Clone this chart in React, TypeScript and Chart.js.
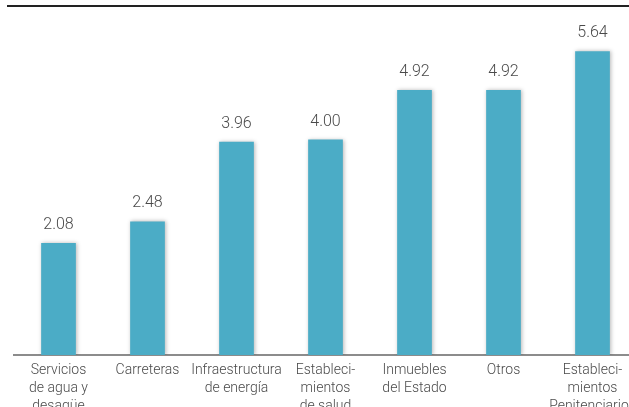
import React, { useEffect, useRef } from "react";
import { Chart, registerables } from "chart.js";

Chart.register(...registerables);

const categories: string[][] = [
  ["Servicios", "de agua y", "desagüe"],
  ["Carreteras"],
  ["Infraestructura", "de energía"],
  ["Estableci-", "mientos", "de salud"],
  ["Inmuebles", "del Estado"],
  ["Otros"],
  ["Estableci-", "mientos", "Penitenciarios"],
];
const values: number[] = [2.08, 2.48, 3.96, 4.0, 4.92, 4.92, 5.64];
const valueLabels: string[] = ["2.08", "2.48", "3.96", "4.00", "4.92", "4.92", "5.64"];

const FONT = "Roboto, 'Liberation Sans', Arial, sans-serif";

const shadowPlugin = {
  id: "barShadow",
  beforeDatasetsDraw(chart: any) {
    const ctx = chart.ctx;
    ctx.save();
    ctx.shadowColor = "rgba(0,0,0,0.28)";
    ctx.shadowBlur = 4;
    ctx.shadowOffsetX = 1;
    ctx.shadowOffsetY = 0;
  },
  afterDatasetsDraw(chart: any) {
    chart.ctx.restore();
  },
};

const valueLabelPlugin = {
  id: "valueLabels",
  afterDraw(chart: any) {
    const ctx = chart.ctx;
    const meta = chart.getDatasetMeta(0);
    ctx.save();
    ctx.font = `300 16px ${FONT}`;
    ctx.fillStyle = "#4a4a4a";
    ctx.textAlign = "center";
    ctx.textBaseline = "alphabetic";
    meta.data.forEach((bar: any, i: number) => {
      ctx.fillText(valueLabels[i], bar.x, bar.y - 14);
    });
    ctx.restore();
  },
};

export default function App() {
  const ref = useRef<HTMLCanvasElement | null>(null);

  useEffect(() => {
    document.body.style.overflow = "hidden";
    if (!ref.current) return;
    const chart = new Chart(ref.current, {
      type: "bar",
      data: {
        labels: categories,
        datasets: [
          {
            data: values,
            backgroundColor: "#4BACC6",
            borderWidth: 0,
            barPercentage: 0.39,
            categoryPercentage: 1,
          },
        ],
      },
      options: {
        animation: false,
        responsive: false,
        maintainAspectRatio: false,
        devicePixelRatio: 1,
        layout: { padding: { top: 5, left: 14, right: 8, bottom: 0 } },
        plugins: {
          legend: { display: false },
          tooltip: { enabled: false },
          title: { display: false },
        },
        scales: {
          x: {
            grid: { display: false, drawTicks: false },
            border: { display: true, color: "#8c8c8c", width: 2 },
            ticks: {
              color: "#4a4a4a",
              font: { family: FONT, size: 14, weight: "300", lineHeight: 1.3 },
              padding: 6,
              maxRotation: 0,
              autoSkip: false,
            },
            afterFit(scale: any) {
              scale.height = 52;
            },
          },
          y: {
            display: false,
            min: 0,
            max: 6.5,
          },
        },
      },
      plugins: [shadowPlugin, valueLabelPlugin],
    });
    return () => chart.destroy();
  }, []);

  return (
    <div style={{ position: "fixed", left: 0, top: 0, width: 629, height: 407, overflow: "hidden", background: "#fff" }}>
      <div style={{ position: "absolute", left: 7, top: 5, width: 640, height: 0, borderTop: "2px solid #222" }} />
      <canvas ref={ref} width={645} height={407} style={{ position: "absolute", left: 0, top: 0, width: 645, height: 407 }} />
    </div>
  );
}
